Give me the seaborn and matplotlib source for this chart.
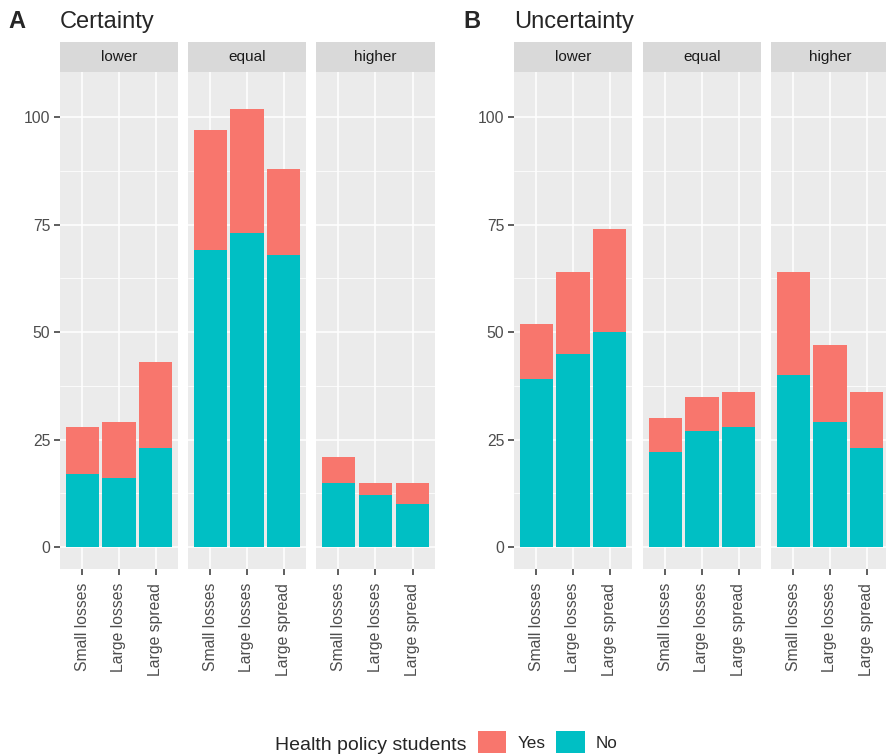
import numpy as np
import pandas as pd
import matplotlib
matplotlib.use("Agg")
import matplotlib.pyplot as plt
import seaborn as sns
from matplotlib.patches import Rectangle, Patch

# ---- data ----
scenarios = ["Small losses", "Large losses", "Large spread"]
levels = ["lower", "equal", "higher"]

# counts per level, in scenario order
certainty_no = {"lower": [17, 16, 23], "equal": [69, 73, 68], "higher": [15, 12, 10]}
certainty_yes = {"lower": [11, 13, 20], "equal": [28, 29, 20], "higher": [6, 3, 5]}
uncertainty_no = {"lower": [39, 45, 50], "equal": [22, 27, 28], "higher": [40, 29, 23]}
uncertainty_yes = {"lower": [13, 19, 24], "equal": [8, 8, 8], "higher": [24, 18, 13]}

panel_titles = {"A": "Certainty", "B": "Uncertainty"}
legend_title = "Health policy students"
legend_labels = ["Yes", "No"]

YES_COLOR = "#F8766D"
NO_COLOR = "#00BFC4"

rows = []
for panel, no_d, yes_d in [("A", certainty_no, certainty_yes),
                           ("B", uncertainty_no, uncertainty_yes)]:
    for lv in levels:
        for sc, n, y in zip(scenarios, no_d[lv], yes_d[lv]):
            rows.append({"panel": panel, "level": lv, "scenario": sc,
                         "no": n, "yes": y})
df = pd.DataFrame(rows)
df["total"] = df["no"] + df["yes"]

# ---- style ----
sns.set_theme(style="darkgrid")
plt.rcParams["font.family"] = ["Liberation Sans", "DejaVu Sans"]

W, H = 887, 756
fig = plt.figure(figsize=(W / 100, H / 100), dpi=100)
fig.patch.set_facecolor("white")


def px_axes(x0, x1, y0, y1):
    return fig.add_axes([x0 / W, 1 - y1 / H, (x1 - x0) / W, (y1 - y0) / H])


panel_top, panel_bottom = 72, 569
strip_h = 30 / (panel_bottom - panel_top)
facet_x = {
    "A": [(60, 178), (188, 306), (316, 435)],
    "B": [(514, 632), (643, 761), (771, 889)],
}

for panel in ["A", "B"]:
    for i, lv in enumerate(levels):
        x0, x1 = facet_x[panel][i]
        ax = px_axes(x0, x1, panel_top, panel_bottom)
        sub = df[(df["panel"] == panel) & (df["level"] == lv)]

        sns.barplot(data=sub, x="scenario", y="total", order=scenarios,
                    color=YES_COLOR, saturation=1, width=0.9, linewidth=0,
                    errorbar=None, ax=ax)
        sns.barplot(data=sub, x="scenario", y="no", order=scenarios,
                    color=NO_COLOR, saturation=1, width=0.9, linewidth=0,
                    errorbar=None, ax=ax)

        ax.set_xlim(-0.6, 2.6)
        ax.set_ylim(-5.1, 110.5)
        ax.set_facecolor("#EBEBEB")
        for s in ax.spines.values():
            s.set_visible(False)
        ax.set_xlabel("")
        ax.set_ylabel("")

        ax.set_yticks([0, 25, 50, 75, 100])
        ax.set_yticks([12.5, 37.5, 62.5, 87.5], minor=True)
        ax.grid(which="major", axis="both", color="white", linewidth=1.1)
        ax.grid(which="minor", axis="y", color="white", linewidth=0.55)
        ax.set_axisbelow(True)

        ax.tick_params(axis="x", which="major", bottom=True, length=4,
                       width=1.1, color="#333333", labelcolor="#4D4D4D",
                       labelsize=11.3, pad=6, labelrotation=90)
        ax.tick_params(which="minor", length=0)
        if i == 0:
            ax.tick_params(axis="y", which="major", left=True, length=4,
                           width=1.1, color="#333333", labelcolor="#4D4D4D",
                           labelsize=11.3, pad=3)
            ax.set_yticklabels(["0", "25", "50", "75", "100"])
        else:
            ax.tick_params(axis="y", which="major", left=False, length=0,
                           labelleft=False)

        # facet strip
        ax.add_patch(Rectangle((0, 1), 1, strip_h, transform=ax.transAxes,
                               facecolor="#D9D9D9", edgecolor="none",
                               clip_on=False))
        ax.text(0.5, 1 + strip_h / 2, lv, transform=ax.transAxes,
                ha="center", va="center", fontsize=11, color="#1A1A1A")

# panel titles
fig.text(8 / W, 1 - 28 / H, "A", fontsize=17, fontweight="bold",
         ha="left", va="baseline")
fig.text(60 / W, 1 - 28 / H, panel_titles["A"], fontsize=17,
         ha="left", va="baseline")
fig.text(463 / W, 1 - 28 / H, "B", fontsize=17, fontweight="bold",
         ha="left", va="baseline")
fig.text(514 / W, 1 - 28 / H, panel_titles["B"], fontsize=17,
         ha="left", va="baseline")

# legend
fig.text(467 / W, 1 - 745 / H, legend_title, fontsize=14,
         ha="right", va="center")
handles = [Patch(facecolor=YES_COLOR, edgecolor="none"),
           Patch(facecolor=NO_COLOR, edgecolor="none")]
fig.legend(handles, legend_labels, ncol=2, loc="center left",
           bbox_to_anchor=(478 / W, 1 - 742 / H), frameon=False,
           fontsize=12.3, handlelength=1.65, handleheight=1.65,
           handletextpad=0.65, columnspacing=0.65, borderpad=0,
           borderaxespad=0)

fig.savefig("out.png", dpi=100, facecolor="white")
